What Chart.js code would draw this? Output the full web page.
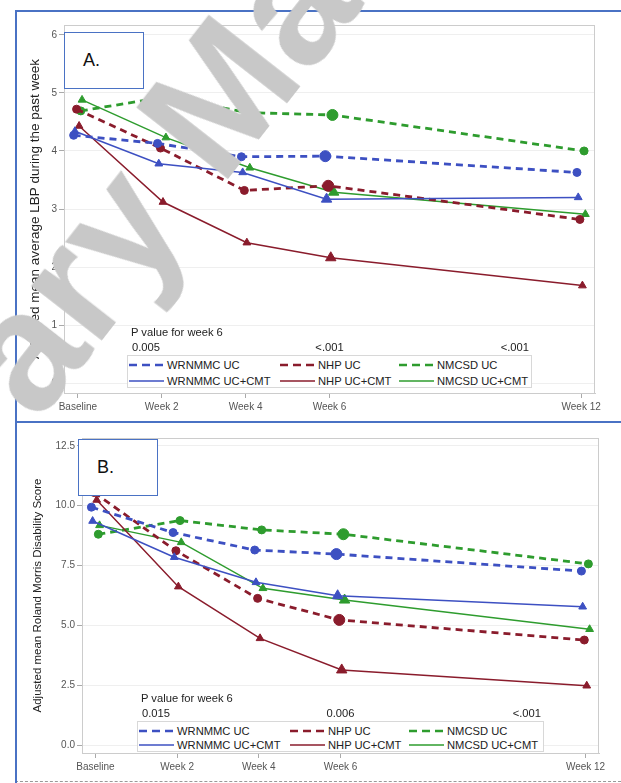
<!DOCTYPE html>
<html>
<head>
<meta charset="utf-8">
<script src="https://cdn.jsdelivr.net/npm/chart.js@4.4.1/dist/chart.umd.min.js"></script>
<style>
  body { margin: 0; width: 621px; height: 783px; background: #fff; position: relative; overflow: hidden;
         font-family: 'Liberation Sans', Arial, sans-serif; color: #222; }
  canvas { position: absolute; }
  .hline { position: absolute; height: 0; }
  .vline { position: absolute; width: 0; }
  .tag { position: absolute; background: #fff; border: 1px solid #4a72c4; font-size: 18px; color: #111; }
  .tag span { position: absolute; left: 18px; top: 17px; }
  .legend { position: absolute; background: #fff; border: 1px solid #d8d8d8; }
  .entry { position: absolute; font-size: 11.2px; line-height: 12px; white-space: nowrap; }
  .entry svg { position: absolute; left: 0; top: 1px; }
  .entry span { position: absolute; left: 38px; top: 0; }
  .ptext { position: absolute; font-size: 11.2px; line-height: 12px; white-space: nowrap; }
  .watermark { position: absolute; font: bold 168px 'Liberation Sans', Arial, sans-serif; color: #c8c8c8;
               white-space: nowrap; line-height: 168px; transform: rotate(-52deg); transform-origin: center; }
</style>
</head>
<body>
<div class="hline" style="left:15px;top:10px;width:606px;border-top:2px solid #4a72c4"></div>
<div class="hline" style="left:15px;top:421px;width:606px;border-top:2px solid #4a72c4"></div>
<div class="hline" style="left:15px;top:781px;width:606px;border-top:1px dashed #999"></div>
<div class="vline" style="left:15px;top:10px;height:773px;border-left:2px solid #4a72c4"></div>

<canvas id="painChart" width="604" height="408" style="left:17px;top:13px"></canvas>
<canvas id="rmdqChart" width="604" height="356" style="left:17px;top:424px"></canvas>

<div class="tag" style="left:64px;top:32px;width:78px;height:55px"><span>A.</span></div>
<div class="tag" style="left:78px;top:439px;width:78px;height:55px"><span>B.</span></div>

<script>
// x axis: visit week
const weeks = [0, 2, 4, 6, 12];
const weekLabels = ['Baseline', 'Week 2', 'Week 4', 'Week 6', 'Week 12'];
const seriesNames = ['WRNMMC UC', 'WRNMMC UC+CMT', 'NHP UC', 'NHP UC+CMT', 'NMCSD UC', 'NMCSD UC+CMT'];

// panel A - adjusted mean average LBP
const painWrnmmcUc    = [4.27, 4.13, 3.90, 3.91, 3.63];
const painWrnmmcCmt   = [4.34, 3.78, 3.63, 3.17, 3.20];
const painNhpUc       = [4.72, 4.05, 3.32, 3.40, 2.82];
const painNhpCmt      = [4.43, 3.12, 2.42, 2.16, 1.68];
const painNmcsdUc     = [4.69, 4.93, 4.66, 4.62, 4.00];
const painNmcsdCmt    = [4.88, 4.23, 3.71, 3.29, 2.91];
const painTicks = [0, 1, 2, 3, 4, 5, 6];
const painPValues = ['0.005', '<.001', '<.001'];

// panel B - adjusted mean Roland Morris disability score
const rmdqWrnmmcUc    = [9.94, 8.88, 8.15, 7.98, 7.27];
const rmdqWrnmmcCmt   = [9.36, 7.85, 6.80, 6.24, 5.78];
const rmdqNhpUc       = [10.55, 8.12, 6.13, 5.23, 4.39];
const rmdqNhpCmt      = [10.24, 6.62, 4.46, 3.14, 2.48];
const rmdqNmcsdUc     = [8.81, 9.38, 8.99, 8.81, 7.57];
const rmdqNmcsdCmt    = [9.18, 8.47, 6.55, 6.06, 4.84];
const rmdqTicks = [0, 2.5, 5, 7.5, 10, 12.5];
const rmdqPValues = ['0.015', '0.006', '<.001'];

const BLUE = '#3d50c2', RED = '#8a1c2c', GREEN = '#2e9c2e';
const styles = [
  { color: BLUE,  dash: true,  shift: -0.10 },
  { color: BLUE,  dash: false, shift: -0.07 },
  { color: RED,   dash: true,  shift: -0.03 },
  { color: RED,   dash: false, shift:  0.03 },
  { color: GREEN, dash: true,  shift:  0.07 },
  { color: GREEN, dash: false, shift:  0.10 }
];
const circleSize = [4, 4, 4, 5.5, 4];
const triangleSize = [4.5, 4.5, 4.5, 6, 4.5];

Chart.defaults.font.family = "'Liberation Sans', Arial, sans-serif";

const framePlugin = {
  id: 'frame',
  beforeDatasetsDraw(chart) {
    const a = chart.chartArea, ctx = chart.ctx;
    ctx.save();
    ctx.strokeStyle = '#cccccc';
    ctx.lineWidth = 1;
    ctx.strokeRect(a.left + 0.5, a.top + 0.5, a.right - a.left - 1, a.bottom - a.top);
    ctx.restore();
  }
};

function makeChart(id, series, yTicks, yMin, yMax, yTitle, titleSize, box) {
  return new Chart(document.getElementById(id), {
    type: 'line',
    data: {
      datasets: series.map((vals, k) => ({
        label: seriesNames[k],
        data: weeks.map((w, i) => ({ x: w + styles[k].shift, y: vals[i] })),
        borderColor: styles[k].color,
        backgroundColor: styles[k].color,
        borderWidth: styles[k].dash ? 2.8 : 1.5,
        borderDash: styles[k].dash ? [7, 5] : [],
        pointStyle: styles[k].dash ? 'circle' : 'triangle',
        pointRadius: styles[k].dash ? circleSize : triangleSize,
        pointBorderWidth: 1,
        tension: 0,
        fill: false
      }))
    },
    options: {
      responsive: false,
      animation: false,
      events: [],
      layout: { padding: { left: 0, top: box.top, right: box.right, bottom: 0 } },
      plugins: { legend: { display: false }, tooltip: { enabled: false } },
      scales: {
        x: {
          type: 'linear', min: -0.33, max: 12.33,
          afterBuildTicks: s => { s.ticks = weeks.map(v => ({ value: v })); },
          afterFit: s => { s.height = box.bottom; },
          ticks: { autoSkip: false, maxRotation: 0, color: '#555', font: { size: 10 }, padding: 3,
                   callback: v => weekLabels[weeks.indexOf(v)] },
          grid: { drawOnChartArea: false, tickLength: 5, tickColor: '#aaa' },
          border: { color: '#cccccc' }
        },
        y: {
          min: yMin, max: yMax,
          afterBuildTicks: s => { s.ticks = yTicks.map(v => ({ value: v })); },
          afterFit: s => { s.width = box.left; },
          ticks: { color: '#555', font: { size: 10 }, padding: 2,
                   callback: v => (yTicks.some(t => t % 1) ? v.toFixed(1) : String(v)) },
          grid: { color: '#efefef', tickLength: 5, tickColor: '#aaa' },
          border: { color: '#cccccc' },
          title: { display: true, text: yTitle, color: '#222', font: { size: titleSize }, padding: { top: box.titlePad, bottom: 0 } }
        }
      }
    },
    plugins: [framePlugin]
  });
}

function addLegend(chart, canvasLeft, pvals, rect) {
  const body = document.body;
  const lg = document.createElement('div');
  lg.className = 'legend';
  Object.assign(lg.style, { left: rect.x + 'px', top: rect.y + 'px', width: rect.w + 'px', height: rect.h + 'px' });
  body.appendChild(lg);
  const cols = [1, 152, 271];
  const order = [[0, 2, 4], [1, 3, 5]];
  order.forEach((row, r) => row.forEach((k, c) => {
    const e = document.createElement('div');
    e.className = 'entry';
    Object.assign(e.style, { left: cols[c] + 'px', top: (3 + r * rect.rowGap) + 'px' });
    const dash = styles[k].dash ? ' stroke-dasharray="8 5"' : '';
    e.innerHTML = '<svg width="36" height="10"><line x1="0" y1="5" x2="35" y2="5" stroke="' + styles[k].color +
      '" stroke-width="' + (styles[k].dash ? 2.6 : 1.6) + '"' + dash + '/></svg><span>' + seriesNames[k] + '</span>';
    lg.appendChild(e);
  }));

  const head = document.createElement('div');
  head.className = 'ptext';
  head.textContent = 'P value for week 6';
  Object.assign(head.style, { left: (rect.x + 4) + 'px', top: (rect.y - 29) + 'px' });
  body.appendChild(head);

  const p1 = document.createElement('div');
  p1.className = 'ptext';
  p1.textContent = pvals[0];
  Object.assign(p1.style, { left: (rect.x + 5) + 'px', top: (rect.y - 14) + 'px' });
  body.appendChild(p1);

  const p2 = document.createElement('div');
  p2.className = 'ptext';
  p2.textContent = pvals[1];
  const mid = canvasLeft + chart.scales.x.getPixelForValue(6);
  Object.assign(p2.style, { left: mid + 'px', top: (rect.y - 14) + 'px', transform: 'translateX(-50%)' });
  body.appendChild(p2);

  const p3 = document.createElement('div');
  p3.className = 'ptext';
  p3.textContent = pvals[2];
  Object.assign(p3.style, { left: (rect.x + rect.w - 1) + 'px', top: (rect.y - 14) + 'px', transform: 'translateX(-100%)' });
  body.appendChild(p3);
}

const painChart = makeChart('painChart',
  [painWrnmmcUc, painWrnmmcCmt, painNhpUc, painNhpCmt, painNmcsdUc, painNmcsdCmt],
  painTicks, -0.17, 6.17, 'Adjusted mean average LBP during the past week', 13.5,
  { left: 47, top: 12, right: 26, bottom: 28, titlePad: 10 });
addLegend(painChart, 17, painPValues, { x: 127, y: 355, w: 403, h: 31, rowGap: 16 });

const rmdqChart = makeChart('rmdqChart',
  [rmdqWrnmmcUc, rmdqWrnmmcCmt, rmdqNhpUc, rmdqNhpCmt, rmdqNmcsdUc, rmdqNmcsdCmt],
  rmdqTicks, -0.33, 12.83, 'Adjusted mean Roland Morris Disability Score', 11.5,
  { left: 65, top: 14, right: 22, bottom: 27, titlePad: 14 });
addLegend(rmdqChart, 17, rmdqPValues, { x: 137, y: 721, w: 405, h: 29, rowGap: 14 });

// diagonal watermark over panel A
const wm = document.createElement('div');
wm.className = 'watermark';
wm.textContent = 'ary Ma';
document.body.appendChild(wm);
wm.style.left = (155 - wm.offsetWidth / 2) + 'px';
wm.style.top = (178 - wm.offsetHeight / 2) + 'px';
</script>
</body>
</html>
